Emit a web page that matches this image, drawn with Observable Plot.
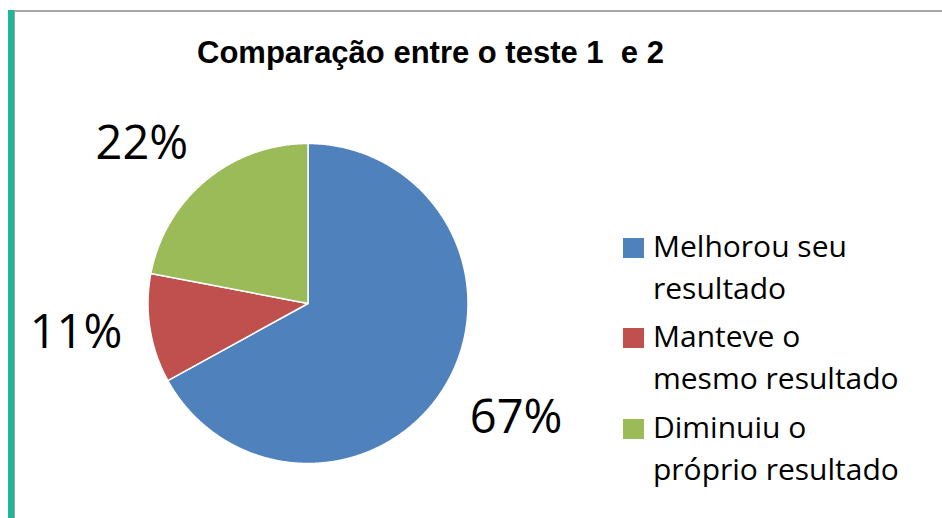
<!DOCTYPE html>
<html><head><meta charset="utf-8">
<script src="https://cdn.jsdelivr.net/npm/d3@7"></script>
<script src="https://cdn.jsdelivr.net/npm/@observablehq/plot@0.6"></script>
<style>
html,body{margin:0;padding:0;background:#fff;}
#wrap{position:relative;width:942px;height:518px;overflow:hidden;background:#fff;}
#teal{position:absolute;left:8px;top:10px;width:6px;height:520px;background:#1fb597;border-right:1px solid #a0a0a0;}
#topline{position:absolute;left:14px;top:10px;right:0;height:2px;background:#a6a6a6;}
#title{position:absolute;left:197px;top:37px;font-family:"Liberation Sans",Arial,sans-serif;font-weight:bold;font-size:31px;line-height:31px;white-space:pre;color:#000;}
#chart{position:absolute;left:0;top:0;}
.item{position:absolute;left:623px;width:300px;}
.sw{position:absolute;left:0;top:13px;width:21px;height:20px;}
.lab{position:absolute;left:30px;width:280px;font-family:"Open Sans",sans-serif;font-size:30px;line-height:42px;color:#000;white-space:pre-line;}
</style></head>
<body>
<div id="wrap">
  <div id="teal"></div>
  <div id="topline"></div>
  <div id="chart"></div>
  <div id="title"></div>
  <div id="legend"></div>
</div>
<script>
const title = "Comparação entre o teste 1  e 2";
const categories = ["Melhorou seu\nresultado", "Manteve o\nmesmo resultado", "Diminuiu o\npróprio resultado"];
const values = [67, 11, 22];
const labels = ["67%", "11%", "22%"];
const colors = ["#4F81BD", "#C0504D", "#9BBB59"];

document.getElementById("title").textContent = title;

const total = d3.sum(values);
let acc = 0;
const slices = values.map((v, i) => {
  const a0 = acc / total * 2 * Math.PI; acc += v;
  const a1 = acc / total * 2 * Math.PI;
  return {cat: categories[i], a0, a1, mid: (a0 + a1) / 2, label: labels[i]};
});
const pts = slices.flatMap(s => {
  const n = Math.max(2, Math.ceil((s.a1 - s.a0) / (Math.PI / 360)));
  const arr = [{cat: s.cat, x: 0, y: 0}];
  for (let k = 0; k <= n; k++) {
    const a = s.a0 + (s.a1 - s.a0) * k / n;
    arr.push({cat: s.cat, x: Math.sin(a), y: Math.cos(a)});
  }
  arr.push({cat: s.cat, x: 0, y: 0});
  return arr;
});

const R = 1.175;
const labelMarks = slices.map(s => {
  const sx = Math.sin(s.mid), cy = Math.cos(s.mid);
  return Plot.text([s], {
    x: d => R * Math.sin(d.mid), y: d => R * Math.cos(d.mid), text: "label",
    textAnchor: sx < 0 ? "end" : "start",
    lineAnchor: cy > 0.35 ? "bottom" : cy < -0.35 ? "top" : "middle",
    fontSize: 47, fontFamily: "Open Sans", fill: "#000"
  });
});

const plot = Plot.plot({
  width: 942, height: 518,
  marginLeft: 0, marginRight: 0, marginTop: 0, marginBottom: 0,
  style: {background: "transparent", overflow: "visible"},
  x: {domain: [-1, 1], range: [147.5, 467.5], axis: null},
  y: {domain: [-1, 1], range: [463, 143], axis: null},
  color: {domain: categories, range: colors},
  marks: [
    Plot.line(pts, {x: "x", y: "y", z: "cat", fill: "cat", stroke: "#fff", strokeWidth: 1.5, curve: "linear"}),
    ...labelMarks
  ]
});
document.getElementById("chart").appendChild(plot);

const legend = document.getElementById("legend");
categories.forEach((c, i) => {
  const it = document.createElement("div");
  it.className = "item";
  it.style.top = (224.5 + i * 90.5) + "px";
  const sw = document.createElement("div");
  sw.className = "sw"; sw.style.background = colors[i];
  const lab = document.createElement("div");
  lab.className = "lab"; lab.textContent = c;
  it.appendChild(sw); it.appendChild(lab);
  legend.appendChild(it);
});
</script>
</body></html>
